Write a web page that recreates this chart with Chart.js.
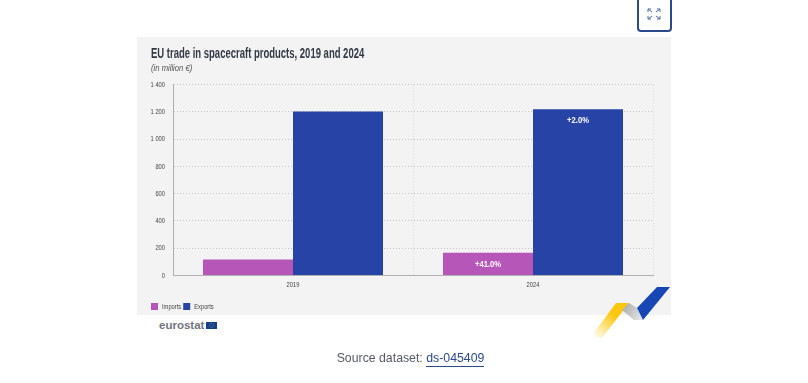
<!DOCTYPE html>
<html>
<head>
<meta charset="utf-8">
<script src="https://cdn.jsdelivr.net/npm/chart.js@4"></script>
<style>
  html, body { margin: 0; padding: 0; background: #fff; overflow: hidden; }
  #page { position: relative; width: 808px; height: 383px; }
  #panel { position: absolute; left: 137px; top: 37px; width: 534px; height: 278px; background: #f3f3f4; }
  #chart-box { position: absolute; left: 137px; top: 37px; width: 534px; height: 278px; }
  #expand { position: absolute; left: 637px; top: -6px; width: 31px; height: 34px; border: 2px solid #2a4a8c; border-radius: 4px; background: #fff; }
  #expand svg { position: absolute; left: 8px; top: 12px; }
  #logo { position: absolute; left: 159px; top: 319px; font: bold 11.5px "Liberation Sans", sans-serif; color: #71757f; line-height: 13px; }
  #swoosh { position: absolute; left: 0; top: 0; }
  #source { position: absolute; left: 0; top: 351px; width: 821px; text-align: center; font: 12.3px "Liberation Sans", sans-serif; color: #555a66; }
  #source a { color: #2a4a8c; text-decoration: none; border-bottom: 1px solid #2a4a8c; padding-bottom: 1px; }
</style>
</head>
<body>
<div id="page">
  <div id="panel"></div>
  <div id="chart-box"><canvas id="trade-chart" width="534" height="278"></canvas></div>
  <div id="expand">
    <svg width="14" height="12" viewBox="0 0 14 12" fill="none" stroke="#4a6aa5" stroke-width="1">
      <path d="M1 4V1H4M1 1L5 4M13 4V1H10M13 1L9 4M1 8V11H4M1 11L5 8M13 8V11H10M13 11L9 8"/>
    </svg>
  </div>
  <div id="logo">eurostat</div>
  <svg id="swoosh" width="808" height="383">
    <defs>
      <linearGradient id="fade" x1="625" y1="303" x2="594" y2="338" gradientUnits="userSpaceOnUse">
        <stop offset="0.35" stop-color="#fcc80f"/>
        <stop offset="1" stop-color="#fcc80f" stop-opacity="0"/>
      </linearGradient>
      <linearGradient id="grey" x1="622" y1="305" x2="645" y2="320" gradientUnits="userSpaceOnUse">
        <stop offset="0" stop-color="#a9a9ab"/>
        <stop offset="1" stop-color="#eeeeef"/>
      </linearGradient>
    </defs>
    <rect x="206" y="322" width="11" height="7" fill="#123f8a"/>
    <circle cx="211.5" cy="325.5" r="2" fill="none" stroke="#c9b64a" stroke-width="0.6" stroke-dasharray="0.7 0.7"/>
    <polygon points="616,303 629,303 602,338 590,338" fill="url(#fade)"/>
    <polygon points="629,303 637,308 643,320 634,320 622,310" fill="url(#grey)"/>
    <polygon points="657,287 670,287 643,320 637,308" fill="#1747b5"/>
  </svg>
  <div id="source">Source dataset: <a href="#">ds-045409</a></div>
</div>

<script>
const years = ["2019", "2024"];
const imports = [117, 167];
const exportsEu = [1203, 1219];
const importLabels = ["", "+41.0%"];
const exportLabels = ["", "+2.0%"];
const yTicks = { min: 0, max: 1400, step: 200 };
const chartFont = '"Liberation Sans", sans-serif';

// no condensed face is installed, so squeeze the canvas text sideways
const squeezeFor = (font) => {
  if (font.includes("14.5px")) return 0.655;
  if (font.includes("9px")) return 0.85;
  return 0.72;
};
const canvas = document.getElementById("trade-chart");
const rawCtx = canvas.getContext("2d");
const fillText = rawCtx.fillText.bind(rawCtx);
const measureText = rawCtx.measureText.bind(rawCtx);
rawCtx.fillText = (text, x, y) => {
  rawCtx.save();
  rawCtx.translate(x, y);
  rawCtx.scale(squeezeFor(rawCtx.font), 1);
  fillText(text, 0, 0);
  rawCtx.restore();
};
rawCtx.measureText = (text) => {
  const m = measureText(text);
  return { width: m.width * squeezeFor(rawCtx.font) };
};

// writes the growth figure inside the bars that have one
const barLabels = {
  id: "barLabels",
  afterLayout(chart) {
    // legend padding also pushes the first box right, pull it back to the title edge
    chart.legend.left -= 2;
  },
  afterDatasetsDraw(chart) {
    const ctx = chart.ctx;
    const labelSets = [importLabels, exportLabels];
    ctx.save();
    ctx.fillStyle = "#ffffff";
    ctx.font = `bold 9px ${chartFont}`;
    ctx.textAlign = "center";
    ctx.textBaseline = "middle";
    labelSets.forEach((labels, i) => {
      chart.getDatasetMeta(i).data.forEach((bar, j) => {
        ctx.fillText(labels[j], bar.x, bar.y + 11.5);
      });
    });
    ctx.restore();
  },
};

new Chart(canvas, {
  type: "bar",
  data: {
    labels: years,
    datasets: [
      { label: "Imports", data: imports, backgroundColor: "#b656b8" },
      { label: "Exports", data: exportsEu, backgroundColor: "#2743a5" },
    ],
  },
  options: {
    responsive: false,
    animation: false,
    events: [],
    layout: { padding: { left: 14, right: 18, top: 8.5, bottom: -5.5 } },
    datasets: { bar: { categoryPercentage: 0.75, barPercentage: 1 } },
    plugins: {
      tooltip: { enabled: false },
      title: {
        display: true,
        text: "EU trade in spacecraft products, 2019 and 2024",
        align: "start",
        color: "#333a45",
        font: { family: chartFont, size: 14.5, weight: "bold" },
        padding: { top: 0, bottom: 0 },
      },
      subtitle: {
        display: true,
        text: "(in million €)",
        align: "start",
        color: "#555",
        font: { family: chartFont, size: 9, style: "italic" },
        padding: { bottom: 11 },
      },
      legend: {
        position: "bottom",
        align: "start",
        labels: {
          boxWidth: 7,
          boxHeight: 7,
          padding: 2,
          color: "#444",
          font: { family: chartFont, size: 8 },
        },
      },
    },
    scales: {
      x: {
        afterFit(scale) { scale.height = 25; },
        grid: {
          color: (c) => (c.index === 0 ? "#00000000" : "#d8d8d8"),
          drawTicks: false,
          offset: true,
        },
        border: { color: "#b0b0b0", dash: [1, 2] },
        ticks: { color: "#444", font: { family: chartFont, size: 8 }, padding: 4 },
      },
      y: {
        min: yTicks.min,
        max: yTicks.max,
        afterFit(scale) { scale.width = 22; },
        grid: { color: "#c4c4c4", drawTicks: false },
        border: { color: "#b0b0b0", dash: [1, 2] },
        ticks: {
          stepSize: yTicks.step,
          color: "#444",
          padding: 8,
          font: { family: chartFont, size: 8 },
          callback: (v) => (v >= 1000 ? String(v).replace(/(\d)(\d{3})$/, "$1 $2") : v),
        },
      },
    },
  },
  plugins: [barLabels],
});
</script>
</body>
</html>
